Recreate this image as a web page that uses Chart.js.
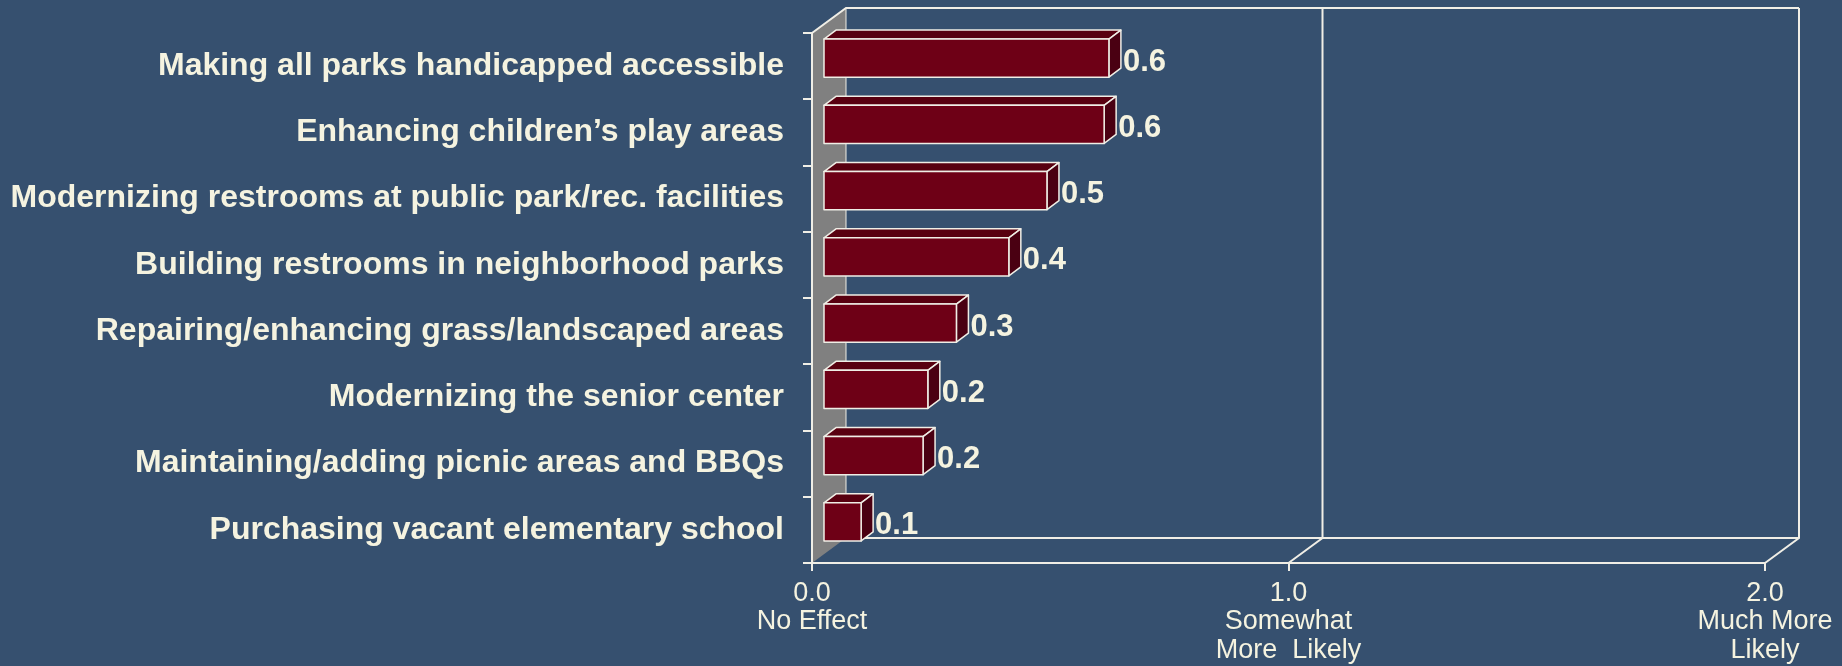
<!DOCTYPE html>
<html>
<head>
<meta charset="utf-8">
<script src="https://cdn.jsdelivr.net/npm/chart.js@4/dist/chart.umd.min.js"></script>
<style>
    html, body { margin: 0; padding: 0; background: #36506F; }
    canvas { display: block; }
</style>
</head>
<body>
<canvas id="impactChart" width="1842" height="666"></canvas>
<script>
const categories = [
    'Making all parks handicapped accessible',
    'Enhancing children’s play areas',
    'Modernizing restrooms at public park/rec. facilities',
    'Building restrooms in neighborhood parks',
    'Repairing/enhancing grass/landscaped areas',
    'Modernizing the senior center',
    'Maintaining/adding picnic areas and BBQs',
    'Purchasing vacant elementary school'
];
const meanScores = [0.60, 0.59, 0.47, 0.39, 0.28, 0.22, 0.21, 0.08];
const tickValues = ['0.0', '1.0', '2.0'];
const tickNames = [['No Effect'], ['Somewhat', 'More  Likely'], ['Much More', 'Likely']];

const textColor = '#F5F3E0';
const lineColor = '#F0EEE6';
// 3D offsets: back wall and bar faces
const backDX = 34, backDY = -25;
const barDX = 11, barDY = -8;
const topDX = 12, topDY = -9;

const wallPlugin = {
    id: 'walls',
    beforeDraw(chart) {
        const { ctx, chartArea: a, scales: { x } } = chart;
        ctx.save();
        // gray side wall
        ctx.fillStyle = '#808080';
        ctx.beginPath();
        ctx.moveTo(a.left, a.top);
        ctx.lineTo(a.left + backDX, a.top + backDY);
        ctx.lineTo(a.left + backDX, a.bottom + backDY);
        ctx.lineTo(a.left, a.bottom);
        ctx.closePath();
        ctx.fill();

        ctx.strokeStyle = lineColor;
        ctx.lineWidth = 2;
        ctx.beginPath();
        // top diagonal + back top edge
        ctx.moveTo(a.left, a.top);
        ctx.lineTo(a.left + backDX, a.top + backDY);
        ctx.lineTo(x.getPixelForValue(x.max) + backDX, a.top + backDY);
        // back floor edge
        ctx.moveTo(a.left + backDX, a.bottom + backDY);
        ctx.lineTo(x.getPixelForValue(x.max) + backDX, a.bottom + backDY);
        ctx.stroke();

        // gridlines on back wall and floor diagonals
        for (let v = 1; v <= x.max; v++) {
            const px = x.getPixelForValue(v);
            ctx.beginPath();
            ctx.moveTo(px + backDX, a.top + backDY);
            ctx.lineTo(px + backDX, a.bottom + backDY);
            ctx.lineTo(px, a.bottom);
            ctx.stroke();
        }
        ctx.lineWidth = 1;
        ctx.beginPath();
        ctx.moveTo(a.left + backDX, a.top + backDY);
        ctx.lineTo(a.left + backDX, a.bottom + backDY);
        ctx.stroke();
        ctx.restore();
    },
    afterDatasetsDraw(chart) {
        const { ctx } = chart;
        const meta = chart.getDatasetMeta(0);
        ctx.save();
        ctx.strokeStyle = lineColor;
        ctx.lineWidth = 1.5;
        ctx.lineJoin = 'round';
        meta.data.forEach((bar, i) => {
            const L = bar.base + barDX;
            const R = bar.x + barDX;
            const T = bar.y - bar.height / 2 + barDY;
            const B = bar.y + bar.height / 2 + barDY;

            ctx.fillStyle = '#580010';
            ctx.beginPath();
            ctx.moveTo(L, T);
            ctx.lineTo(L + topDX, T + topDY);
            ctx.lineTo(R + topDX, T + topDY);
            ctx.lineTo(R, T);
            ctx.closePath();
            ctx.fill();
            ctx.stroke();

            ctx.fillStyle = '#4A0012';
            ctx.beginPath();
            ctx.moveTo(R, T);
            ctx.lineTo(R + topDX, T + topDY);
            ctx.lineTo(R + topDX, B + topDY);
            ctx.lineTo(R, B);
            ctx.closePath();
            ctx.fill();
            ctx.stroke();

            ctx.fillStyle = '#6E0016';
            ctx.fillRect(L, T, R - L, B - T);
            ctx.strokeRect(L, T, R - L, B - T);

            // value label
            ctx.fillStyle = textColor;
            ctx.font = 'bold 31px "Liberation Sans", Arial, sans-serif';
            ctx.textAlign = 'left';
            ctx.textBaseline = 'middle';
            ctx.fillText(meanScores[i].toFixed(1), R + topDX + 2, bar.y + barDY + 4);
        });
        ctx.restore();
    }
};

const ctx = document.getElementById('impactChart').getContext('2d');
new Chart(ctx, {
    type: 'bar',
    data: {
        labels: categories,
        datasets: [{
            data: meanScores,
            backgroundColor: 'rgba(0,0,0,0)',
            borderWidth: 0,
            barPercentage: 0.575,
            categoryPercentage: 1
        }]
    },
    options: {
        indexAxis: 'y',
        responsive: false,
        devicePixelRatio: 1,
        animation: false,
        layout: { padding: { top: 33, right: 77, left: 0, bottom: 0 } },
        plugins: {
            legend: { display: false },
            tooltip: { enabled: false }
        },
        scales: {
            x: {
                min: 0,
                max: 2,
                afterFit: s => { s.height = 103; s.paddingLeft = 0; s.paddingRight = 0; },
                ticks: {
                    stepSize: 1,
                    padding: 8,
                    color: textColor,
                    font: { family: '"Liberation Sans", Arial, sans-serif', size: 27, lineHeight: 1.055 },
                    maxRotation: 0,
                    callback: (v) => [tickValues[v], ...tickNames[v]]
                },
                grid: { drawOnChartArea: false, drawTicks: true, tickLength: 8, color: lineColor, lineWidth: 2 },
                border: { display: true, color: lineColor, width: 2 }
            },
            y: {
                afterFit: s => { s.width = 812; s.paddingTop = 0; s.paddingBottom = 0; },
                ticks: {
                    padding: 19,
                    color: textColor,
                    font: { family: '"Liberation Sans", Arial, sans-serif', size: 32, weight: 'bold' }
                },
                grid: { drawOnChartArea: false, drawTicks: true, tickLength: 9, color: lineColor, lineWidth: 2 },
                border: { display: true, color: lineColor, width: 2 }
            }
        }
    },
    plugins: [wallPlugin]
});
</script>
</body>
</html>
